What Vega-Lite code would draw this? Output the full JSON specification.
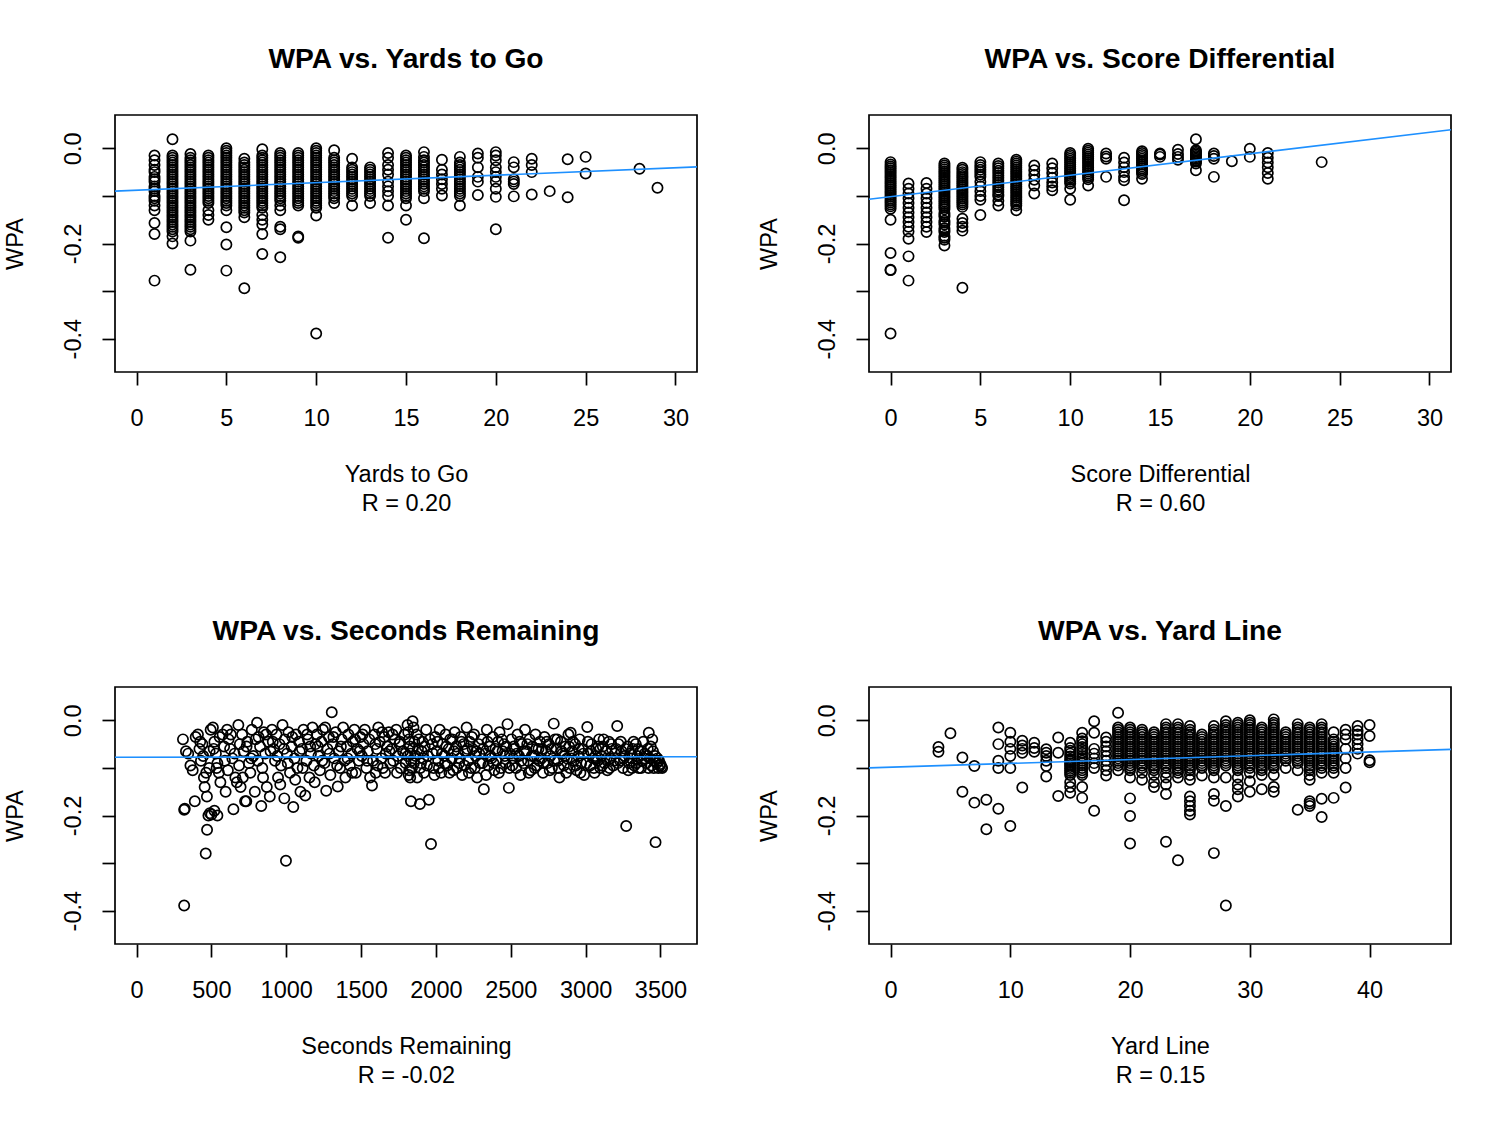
{
  "$schema": "https://vega.github.io/schema/vega-lite/v6.json",
  "background": "white",
  "padding": {"left": 2, "top": 43, "right": 5, "bottom": 5},
  "config": {
    "font": "Liberation Sans",
    "view": {"stroke": "black", "strokeWidth": 1.7},
    "axis": {
      "grid": false,
      "domain": false,
      "ticks": true,
      "tickColor": "black",
      "tickWidth": 1.7,
      "tickSize": 13,
      "labelColor": "black",
      "labelFont": "Liberation Sans",
      "labelFontSize": 23.5,
      "titleColor": "black",
      "titleFont": "Liberation Sans",
      "titleFontSize": 23.5,
      "titleFontWeight": "normal"
    },
    "axisX": {"labelPadding": 21, "titlePadding": 33, "titleLineHeight": 29, "labelFlush": false, "labelOverlap": false},
    "axisY": {"labelAngle": 270, "labelAlign": "center", "labelBaseline": "alphabetic", "labelPadding": 22, "titlePadding": 34, "labelOverlap": false},
    "title": {"font": "Liberation Sans", "fontSize": 28.2, "fontWeight": "bold", "color": "black", "anchor": "middle", "offset": 41},
    "point": {"shape": "circle", "filled": false, "color": "black", "size": 105, "strokeWidth": 1.7, "opacity": 1},
    "line": {"color": "#1E90FF", "strokeWidth": 1.6, "clip": true}
  },
  "datasets": {
    "yards_to_go": [
      {"yards":1,"wpa":-0.015},{"yards":1,"wpa":-0.025},{"yards":1,"wpa":-0.035},{"yards":1,"wpa":-0.05},{"yards":1,"wpa":-0.06},{"yards":1,"wpa":-0.07},{"yards":1,"wpa":-0.08},{"yards":1,"wpa":-0.09},{"yards":1,"wpa":-0.1},{"yards":1,"wpa":-0.11},{"yards":1,"wpa":-0.12},{"yards":1,"wpa":-0.13},{"yards":1,"wpa":-0.157},{"yards":1,"wpa":-0.18},{"yards":1,"wpa":-0.278},
      {"yards":1,"wpa":-0.045},{"yards":1,"wpa":-0.065},{"yards":1,"wpa":-0.085},{"yards":1,"wpa":-0.105},
      {"yards":2,"wpa":0.019},{"yards":2,"wpa":-0.015},{"yards":2,"wpa":-0.025},{"yards":2,"wpa":-0.035},{"yards":2,"wpa":-0.045},{"yards":2,"wpa":-0.055},{"yards":2,"wpa":-0.065},{"yards":2,"wpa":-0.075},{"yards":2,"wpa":-0.085},{"yards":2,"wpa":-0.095},{"yards":2,"wpa":-0.105},{"yards":2,"wpa":-0.115},{"yards":2,"wpa":-0.125},{"yards":2,"wpa":-0.135},{"yards":2,"wpa":-0.145},{"yards":2,"wpa":-0.155},{"yards":2,"wpa":-0.165},{"yards":2,"wpa":-0.175},{"yards":2,"wpa":-0.185},{"yards":2,"wpa":-0.2},
      {"yards":2,"wpa":-0.02},{"yards":2,"wpa":-0.03},{"yards":2,"wpa":-0.04},{"yards":2,"wpa":-0.05},{"yards":2,"wpa":-0.06},{"yards":2,"wpa":-0.07},{"yards":2,"wpa":-0.08},{"yards":2,"wpa":-0.09},{"yards":2,"wpa":-0.1},{"yards":2,"wpa":-0.11},{"yards":2,"wpa":-0.12},{"yards":2,"wpa":-0.13},{"yards":2,"wpa":-0.14},{"yards":2,"wpa":-0.15},{"yards":2,"wpa":-0.16},{"yards":2,"wpa":-0.17},
      {"yards":3,"wpa":-0.012},{"yards":3,"wpa":-0.025},{"yards":3,"wpa":-0.035},{"yards":3,"wpa":-0.045},{"yards":3,"wpa":-0.055},{"yards":3,"wpa":-0.065},{"yards":3,"wpa":-0.075},{"yards":3,"wpa":-0.085},{"yards":3,"wpa":-0.095},{"yards":3,"wpa":-0.105},{"yards":3,"wpa":-0.115},{"yards":3,"wpa":-0.125},{"yards":3,"wpa":-0.135},{"yards":3,"wpa":-0.145},{"yards":3,"wpa":-0.155},{"yards":3,"wpa":-0.165},{"yards":3,"wpa":-0.175},{"yards":3,"wpa":-0.194},{"yards":3,"wpa":-0.255},
      {"yards":3,"wpa":-0.02},{"yards":3,"wpa":-0.03},{"yards":3,"wpa":-0.04},{"yards":3,"wpa":-0.05},{"yards":3,"wpa":-0.06},{"yards":3,"wpa":-0.07},{"yards":3,"wpa":-0.08},{"yards":3,"wpa":-0.09},{"yards":3,"wpa":-0.1},{"yards":3,"wpa":-0.11},{"yards":3,"wpa":-0.12},{"yards":3,"wpa":-0.13},{"yards":3,"wpa":-0.14},{"yards":3,"wpa":-0.15},{"yards":3,"wpa":-0.16},{"yards":3,"wpa":-0.17},
      {"yards":4,"wpa":-0.015},{"yards":4,"wpa":-0.025},{"yards":4,"wpa":-0.035},{"yards":4,"wpa":-0.045},{"yards":4,"wpa":-0.055},{"yards":4,"wpa":-0.065},{"yards":4,"wpa":-0.075},{"yards":4,"wpa":-0.085},{"yards":4,"wpa":-0.095},{"yards":4,"wpa":-0.105},{"yards":4,"wpa":-0.115},{"yards":4,"wpa":-0.13},{"yards":4,"wpa":-0.14},{"yards":4,"wpa":-0.15},
      {"yards":4,"wpa":-0.02},{"yards":4,"wpa":-0.03},{"yards":4,"wpa":-0.04},{"yards":4,"wpa":-0.05},{"yards":4,"wpa":-0.06},{"yards":4,"wpa":-0.07},{"yards":4,"wpa":-0.08},{"yards":4,"wpa":-0.09},{"yards":4,"wpa":-0.1},{"yards":4,"wpa":-0.11},
      {"yards":5,"wpa":0},{"yards":5,"wpa":-0.01},{"yards":5,"wpa":-0.02},{"yards":5,"wpa":-0.03},{"yards":5,"wpa":-0.04},{"yards":5,"wpa":-0.05},{"yards":5,"wpa":-0.06},{"yards":5,"wpa":-0.07},{"yards":5,"wpa":-0.08},{"yards":5,"wpa":-0.09},{"yards":5,"wpa":-0.1},{"yards":5,"wpa":-0.11},{"yards":5,"wpa":-0.12},{"yards":5,"wpa":-0.13},{"yards":5,"wpa":-0.166},{"yards":5,"wpa":-0.202},{"yards":5,"wpa":-0.257},
      {"yards":5,"wpa":-0.005},{"yards":5,"wpa":-0.015},{"yards":5,"wpa":-0.025},{"yards":5,"wpa":-0.035},{"yards":5,"wpa":-0.045},{"yards":5,"wpa":-0.055},{"yards":5,"wpa":-0.065},{"yards":5,"wpa":-0.075},{"yards":5,"wpa":-0.085},{"yards":5,"wpa":-0.095},{"yards":5,"wpa":-0.105},{"yards":5,"wpa":-0.115},
      {"yards":6,"wpa":-0.022},{"yards":6,"wpa":-0.035},{"yards":6,"wpa":-0.045},{"yards":6,"wpa":-0.055},{"yards":6,"wpa":-0.065},{"yards":6,"wpa":-0.075},{"yards":6,"wpa":-0.085},{"yards":6,"wpa":-0.095},{"yards":6,"wpa":-0.105},{"yards":6,"wpa":-0.115},{"yards":6,"wpa":-0.125},{"yards":6,"wpa":-0.135},{"yards":6,"wpa":-0.145},{"yards":6,"wpa":-0.294},
      {"yards":6,"wpa":-0.03},{"yards":6,"wpa":-0.04},{"yards":6,"wpa":-0.05},{"yards":6,"wpa":-0.06},{"yards":6,"wpa":-0.07},{"yards":6,"wpa":-0.08},{"yards":6,"wpa":-0.09},{"yards":6,"wpa":-0.1},{"yards":6,"wpa":-0.11},{"yards":6,"wpa":-0.12},{"yards":6,"wpa":-0.13},
      {"yards":7,"wpa":-0.002},{"yards":7,"wpa":-0.015},{"yards":7,"wpa":-0.025},{"yards":7,"wpa":-0.035},{"yards":7,"wpa":-0.045},{"yards":7,"wpa":-0.055},{"yards":7,"wpa":-0.065},{"yards":7,"wpa":-0.075},{"yards":7,"wpa":-0.085},{"yards":7,"wpa":-0.095},{"yards":7,"wpa":-0.105},{"yards":7,"wpa":-0.115},{"yards":7,"wpa":-0.125},{"yards":7,"wpa":-0.14},{"yards":7,"wpa":-0.15},{"yards":7,"wpa":-0.16},{"yards":7,"wpa":-0.18},{"yards":7,"wpa":-0.222},
      {"yards":7,"wpa":-0.02},{"yards":7,"wpa":-0.03},{"yards":7,"wpa":-0.04},{"yards":7,"wpa":-0.05},{"yards":7,"wpa":-0.06},{"yards":7,"wpa":-0.07},{"yards":7,"wpa":-0.08},{"yards":7,"wpa":-0.09},{"yards":7,"wpa":-0.1},{"yards":7,"wpa":-0.11},{"yards":7,"wpa":-0.12},
      {"yards":8,"wpa":-0.01},{"yards":8,"wpa":-0.02},{"yards":8,"wpa":-0.03},{"yards":8,"wpa":-0.04},{"yards":8,"wpa":-0.05},{"yards":8,"wpa":-0.06},{"yards":8,"wpa":-0.07},{"yards":8,"wpa":-0.08},{"yards":8,"wpa":-0.09},{"yards":8,"wpa":-0.1},{"yards":8,"wpa":-0.11},{"yards":8,"wpa":-0.12},{"yards":8,"wpa":-0.13},{"yards":8,"wpa":-0.165},{"yards":8,"wpa":-0.17},{"yards":8,"wpa":-0.229},
      {"yards":8,"wpa":-0.015},{"yards":8,"wpa":-0.025},{"yards":8,"wpa":-0.035},{"yards":8,"wpa":-0.045},{"yards":8,"wpa":-0.055},{"yards":8,"wpa":-0.065},{"yards":8,"wpa":-0.075},{"yards":8,"wpa":-0.085},{"yards":8,"wpa":-0.095},{"yards":8,"wpa":-0.105},
      {"yards":9,"wpa":-0.01},{"yards":9,"wpa":-0.02},{"yards":9,"wpa":-0.03},{"yards":9,"wpa":-0.04},{"yards":9,"wpa":-0.05},{"yards":9,"wpa":-0.06},{"yards":9,"wpa":-0.07},{"yards":9,"wpa":-0.08},{"yards":9,"wpa":-0.09},{"yards":9,"wpa":-0.1},{"yards":9,"wpa":-0.11},{"yards":9,"wpa":-0.12},{"yards":9,"wpa":-0.185},{"yards":9,"wpa":-0.188},
      {"yards":9,"wpa":-0.015},{"yards":9,"wpa":-0.025},{"yards":9,"wpa":-0.035},{"yards":9,"wpa":-0.045},{"yards":9,"wpa":-0.055},{"yards":9,"wpa":-0.065},{"yards":9,"wpa":-0.075},{"yards":9,"wpa":-0.085},{"yards":9,"wpa":-0.095},{"yards":9,"wpa":-0.105},{"yards":9,"wpa":-0.115},
      {"yards":10,"wpa":0},{"yards":10,"wpa":-0.005},{"yards":10,"wpa":-0.015},{"yards":10,"wpa":-0.025},{"yards":10,"wpa":-0.035},{"yards":10,"wpa":-0.045},{"yards":10,"wpa":-0.055},{"yards":10,"wpa":-0.065},{"yards":10,"wpa":-0.075},{"yards":10,"wpa":-0.085},{"yards":10,"wpa":-0.095},{"yards":10,"wpa":-0.105},{"yards":10,"wpa":-0.115},{"yards":10,"wpa":-0.125},{"yards":10,"wpa":-0.141},{"yards":10,"wpa":-0.389},
      {"yards":10,"wpa":-0.01},{"yards":10,"wpa":-0.02},{"yards":10,"wpa":-0.03},{"yards":10,"wpa":-0.04},{"yards":10,"wpa":-0.05},{"yards":10,"wpa":-0.06},{"yards":10,"wpa":-0.07},{"yards":10,"wpa":-0.08},{"yards":10,"wpa":-0.09},{"yards":10,"wpa":-0.1},{"yards":10,"wpa":-0.11},{"yards":10,"wpa":-0.12},
      {"yards":11,"wpa":-0.004},{"yards":11,"wpa":-0.02},{"yards":11,"wpa":-0.03},{"yards":11,"wpa":-0.04},{"yards":11,"wpa":-0.05},{"yards":11,"wpa":-0.06},{"yards":11,"wpa":-0.07},{"yards":11,"wpa":-0.08},{"yards":11,"wpa":-0.09},{"yards":11,"wpa":-0.1},{"yards":11,"wpa":-0.115},
      {"yards":11,"wpa":-0.025},{"yards":11,"wpa":-0.035},{"yards":11,"wpa":-0.045},{"yards":11,"wpa":-0.055},{"yards":11,"wpa":-0.065},{"yards":11,"wpa":-0.075},{"yards":11,"wpa":-0.085},{"yards":11,"wpa":-0.095},{"yards":11,"wpa":-0.105},
      {"yards":12,"wpa":-0.022},{"yards":12,"wpa":-0.04},{"yards":12,"wpa":-0.05},{"yards":12,"wpa":-0.06},{"yards":12,"wpa":-0.07},{"yards":12,"wpa":-0.08},{"yards":12,"wpa":-0.09},{"yards":12,"wpa":-0.1},{"yards":12,"wpa":-0.12},
      {"yards":12,"wpa":-0.045},{"yards":12,"wpa":-0.055},{"yards":12,"wpa":-0.065},{"yards":12,"wpa":-0.075},{"yards":12,"wpa":-0.085},{"yards":12,"wpa":-0.095},
      {"yards":13,"wpa":-0.04},{"yards":13,"wpa":-0.05},{"yards":13,"wpa":-0.06},{"yards":13,"wpa":-0.07},{"yards":13,"wpa":-0.08},{"yards":13,"wpa":-0.09},{"yards":13,"wpa":-0.1},{"yards":13,"wpa":-0.115},
      {"yards":13,"wpa":-0.045},{"yards":13,"wpa":-0.055},{"yards":13,"wpa":-0.065},{"yards":13,"wpa":-0.075},{"yards":13,"wpa":-0.085},{"yards":13,"wpa":-0.095},
      {"yards":14,"wpa":-0.01},{"yards":14,"wpa":-0.02},{"yards":14,"wpa":-0.035},{"yards":14,"wpa":-0.045},{"yards":14,"wpa":-0.055},{"yards":14,"wpa":-0.07},{"yards":14,"wpa":-0.08},{"yards":14,"wpa":-0.09},{"yards":14,"wpa":-0.1},{"yards":14,"wpa":-0.12},{"yards":14,"wpa":-0.188},
      {"yards":15,"wpa":-0.015},{"yards":15,"wpa":-0.025},{"yards":15,"wpa":-0.035},{"yards":15,"wpa":-0.045},{"yards":15,"wpa":-0.055},{"yards":15,"wpa":-0.065},{"yards":15,"wpa":-0.075},{"yards":15,"wpa":-0.085},{"yards":15,"wpa":-0.095},{"yards":15,"wpa":-0.105},{"yards":15,"wpa":-0.12},{"yards":15,"wpa":-0.15},
      {"yards":15,"wpa":-0.02},{"yards":15,"wpa":-0.03},{"yards":15,"wpa":-0.04},{"yards":15,"wpa":-0.05},{"yards":15,"wpa":-0.06},{"yards":15,"wpa":-0.07},{"yards":15,"wpa":-0.08},{"yards":15,"wpa":-0.09},{"yards":15,"wpa":-0.1},
      {"yards":16,"wpa":-0.008},{"yards":16,"wpa":-0.018},{"yards":16,"wpa":-0.03},{"yards":16,"wpa":-0.04},{"yards":16,"wpa":-0.05},{"yards":16,"wpa":-0.06},{"yards":16,"wpa":-0.07},{"yards":16,"wpa":-0.08},{"yards":16,"wpa":-0.09},{"yards":16,"wpa":-0.105},{"yards":16,"wpa":-0.189},
      {"yards":16,"wpa":-0.025},{"yards":16,"wpa":-0.035},{"yards":16,"wpa":-0.045},{"yards":16,"wpa":-0.055},{"yards":16,"wpa":-0.065},{"yards":16,"wpa":-0.075},{"yards":16,"wpa":-0.085},
      {"yards":17,"wpa":-0.024},{"yards":17,"wpa":-0.045},{"yards":17,"wpa":-0.055},{"yards":17,"wpa":-0.065},{"yards":17,"wpa":-0.075},{"yards":17,"wpa":-0.085},{"yards":17,"wpa":-0.099},
      {"yards":18,"wpa":-0.018},{"yards":18,"wpa":-0.03},{"yards":18,"wpa":-0.04},{"yards":18,"wpa":-0.05},{"yards":18,"wpa":-0.06},{"yards":18,"wpa":-0.07},{"yards":18,"wpa":-0.08},{"yards":18,"wpa":-0.09},{"yards":18,"wpa":-0.1},{"yards":18,"wpa":-0.12},
      {"yards":18,"wpa":-0.035},{"yards":18,"wpa":-0.045},{"yards":18,"wpa":-0.055},{"yards":18,"wpa":-0.065},{"yards":18,"wpa":-0.075},{"yards":18,"wpa":-0.085},{"yards":18,"wpa":-0.095},
      {"yards":19,"wpa":-0.011},{"yards":19,"wpa":-0.02},{"yards":19,"wpa":-0.04},{"yards":19,"wpa":-0.06},{"yards":19,"wpa":-0.07},{"yards":19,"wpa":-0.098},
      {"yards":20,"wpa":-0.008},{"yards":20,"wpa":-0.015},{"yards":20,"wpa":-0.025},{"yards":20,"wpa":-0.04},{"yards":20,"wpa":-0.05},{"yards":20,"wpa":-0.06},{"yards":20,"wpa":-0.07},{"yards":20,"wpa":-0.085},{"yards":20,"wpa":-0.102},{"yards":20,"wpa":-0.17},
      {"yards":21,"wpa":-0.029},{"yards":21,"wpa":-0.04},{"yards":21,"wpa":-0.065},{"yards":21,"wpa":-0.07},{"yards":21,"wpa":-0.075},{"yards":21,"wpa":-0.101},
      {"yards":22,"wpa":-0.022},{"yards":22,"wpa":-0.035},{"yards":22,"wpa":-0.05},{"yards":22,"wpa":-0.097},
      {"yards":23,"wpa":-0.09},
      {"yards":24,"wpa":-0.023},{"yards":24,"wpa":-0.103},
      {"yards":25,"wpa":-0.018},{"yards":25,"wpa":-0.053},
      {"yards":28,"wpa":-0.043},
      {"yards":29,"wpa":-0.083}
    ],
    "fit_yards": [{"yards":-1.2,"wpa":-0.0899},{"yards":31.2,"wpa":-0.039}],
    "score_differential": [
      {"score_diff":0,"wpa":-0.029},{"score_diff":0,"wpa":-0.038},{"score_diff":0,"wpa":-0.046},{"score_diff":0,"wpa":-0.054},{"score_diff":0,"wpa":-0.062},{"score_diff":0,"wpa":-0.07},{"score_diff":0,"wpa":-0.078},{"score_diff":0,"wpa":-0.086},{"score_diff":0,"wpa":-0.094},{"score_diff":0,"wpa":-0.102},{"score_diff":0,"wpa":-0.11},{"score_diff":0,"wpa":-0.118},{"score_diff":0,"wpa":-0.127},{"score_diff":0,"wpa":-0.15},{"score_diff":0,"wpa":-0.22},{"score_diff":0,"wpa":-0.255},{"score_diff":0,"wpa":-0.256},{"score_diff":0,"wpa":-0.389},
      {"score_diff":0,"wpa":-0.034},{"score_diff":0,"wpa":-0.042},{"score_diff":0,"wpa":-0.05},{"score_diff":0,"wpa":-0.058},{"score_diff":0,"wpa":-0.066},{"score_diff":0,"wpa":-0.074},{"score_diff":0,"wpa":-0.082},{"score_diff":0,"wpa":-0.09},{"score_diff":0,"wpa":-0.098},{"score_diff":0,"wpa":-0.106},{"score_diff":0,"wpa":-0.114},{"score_diff":0,"wpa":-0.122},
      {"score_diff":1,"wpa":-0.074},{"score_diff":1,"wpa":-0.085},{"score_diff":1,"wpa":-0.095},{"score_diff":1,"wpa":-0.105},{"score_diff":1,"wpa":-0.115},{"score_diff":1,"wpa":-0.125},{"score_diff":1,"wpa":-0.135},{"score_diff":1,"wpa":-0.145},{"score_diff":1,"wpa":-0.155},{"score_diff":1,"wpa":-0.165},{"score_diff":1,"wpa":-0.175},{"score_diff":1,"wpa":-0.19},{"score_diff":1,"wpa":-0.227},{"score_diff":1,"wpa":-0.278},
      {"score_diff":2,"wpa":-0.073},{"score_diff":2,"wpa":-0.085},{"score_diff":2,"wpa":-0.095},{"score_diff":2,"wpa":-0.105},{"score_diff":2,"wpa":-0.115},{"score_diff":2,"wpa":-0.125},{"score_diff":2,"wpa":-0.135},{"score_diff":2,"wpa":-0.145},{"score_diff":2,"wpa":-0.155},{"score_diff":2,"wpa":-0.165},{"score_diff":2,"wpa":-0.176},
      {"score_diff":3,"wpa":-0.032},{"score_diff":3,"wpa":-0.04},{"score_diff":3,"wpa":-0.048},{"score_diff":3,"wpa":-0.056},{"score_diff":3,"wpa":-0.064},{"score_diff":3,"wpa":-0.072},{"score_diff":3,"wpa":-0.08},{"score_diff":3,"wpa":-0.088},{"score_diff":3,"wpa":-0.096},{"score_diff":3,"wpa":-0.104},{"score_diff":3,"wpa":-0.112},{"score_diff":3,"wpa":-0.12},{"score_diff":3,"wpa":-0.128},{"score_diff":3,"wpa":-0.136},{"score_diff":3,"wpa":-0.144},{"score_diff":3,"wpa":-0.152},{"score_diff":3,"wpa":-0.16},{"score_diff":3,"wpa":-0.168},{"score_diff":3,"wpa":-0.176},{"score_diff":3,"wpa":-0.184},{"score_diff":3,"wpa":-0.192},{"score_diff":3,"wpa":-0.204},
      {"score_diff":3,"wpa":-0.036},{"score_diff":3,"wpa":-0.044},{"score_diff":3,"wpa":-0.052},{"score_diff":3,"wpa":-0.06},{"score_diff":3,"wpa":-0.068},{"score_diff":3,"wpa":-0.076},{"score_diff":3,"wpa":-0.084},{"score_diff":3,"wpa":-0.092},{"score_diff":3,"wpa":-0.1},{"score_diff":3,"wpa":-0.108},{"score_diff":3,"wpa":-0.116},{"score_diff":3,"wpa":-0.124},{"score_diff":3,"wpa":-0.14},{"score_diff":3,"wpa":-0.156},{"score_diff":3,"wpa":-0.172},{"score_diff":3,"wpa":-0.188},
      {"score_diff":4,"wpa":-0.041},{"score_diff":4,"wpa":-0.05},{"score_diff":4,"wpa":-0.058},{"score_diff":4,"wpa":-0.066},{"score_diff":4,"wpa":-0.074},{"score_diff":4,"wpa":-0.082},{"score_diff":4,"wpa":-0.09},{"score_diff":4,"wpa":-0.098},{"score_diff":4,"wpa":-0.106},{"score_diff":4,"wpa":-0.114},{"score_diff":4,"wpa":-0.123},{"score_diff":4,"wpa":-0.148},{"score_diff":4,"wpa":-0.157},{"score_diff":4,"wpa":-0.165},{"score_diff":4,"wpa":-0.173},{"score_diff":4,"wpa":-0.293},
      {"score_diff":4,"wpa":-0.045},{"score_diff":4,"wpa":-0.054},{"score_diff":4,"wpa":-0.062},{"score_diff":4,"wpa":-0.07},{"score_diff":4,"wpa":-0.078},{"score_diff":4,"wpa":-0.086},{"score_diff":4,"wpa":-0.094},{"score_diff":4,"wpa":-0.102},{"score_diff":4,"wpa":-0.11},{"score_diff":4,"wpa":-0.118},
      {"score_diff":5,"wpa":-0.029},{"score_diff":5,"wpa":-0.04},{"score_diff":5,"wpa":-0.05},{"score_diff":5,"wpa":-0.06},{"score_diff":5,"wpa":-0.07},{"score_diff":5,"wpa":-0.08},{"score_diff":5,"wpa":-0.09},{"score_diff":5,"wpa":-0.1},{"score_diff":5,"wpa":-0.108},{"score_diff":5,"wpa":-0.14},
      {"score_diff":5,"wpa":-0.035},{"score_diff":5,"wpa":-0.045},{"score_diff":5,"wpa":-0.055},
      {"score_diff":6,"wpa":-0.032},{"score_diff":6,"wpa":-0.042},{"score_diff":6,"wpa":-0.052},{"score_diff":6,"wpa":-0.062},{"score_diff":6,"wpa":-0.072},{"score_diff":6,"wpa":-0.082},{"score_diff":6,"wpa":-0.092},{"score_diff":6,"wpa":-0.1},{"score_diff":6,"wpa":-0.11},{"score_diff":6,"wpa":-0.12},
      {"score_diff":6,"wpa":-0.037},{"score_diff":6,"wpa":-0.047},{"score_diff":6,"wpa":-0.057},{"score_diff":6,"wpa":-0.067},{"score_diff":6,"wpa":-0.077},{"score_diff":6,"wpa":-0.087},{"score_diff":6,"wpa":-0.097},
      {"score_diff":7,"wpa":-0.024},{"score_diff":7,"wpa":-0.032},{"score_diff":7,"wpa":-0.04},{"score_diff":7,"wpa":-0.048},{"score_diff":7,"wpa":-0.056},{"score_diff":7,"wpa":-0.064},{"score_diff":7,"wpa":-0.072},{"score_diff":7,"wpa":-0.08},{"score_diff":7,"wpa":-0.088},{"score_diff":7,"wpa":-0.096},{"score_diff":7,"wpa":-0.104},{"score_diff":7,"wpa":-0.112},{"score_diff":7,"wpa":-0.12},{"score_diff":7,"wpa":-0.13},
      {"score_diff":7,"wpa":-0.028},{"score_diff":7,"wpa":-0.036},{"score_diff":7,"wpa":-0.044},{"score_diff":7,"wpa":-0.052},{"score_diff":7,"wpa":-0.06},{"score_diff":7,"wpa":-0.068},{"score_diff":7,"wpa":-0.076},{"score_diff":7,"wpa":-0.084},{"score_diff":7,"wpa":-0.092},{"score_diff":7,"wpa":-0.1},{"score_diff":7,"wpa":-0.108},{"score_diff":7,"wpa":-0.116},
      {"score_diff":8,"wpa":-0.036},{"score_diff":8,"wpa":-0.046},{"score_diff":8,"wpa":-0.056},{"score_diff":8,"wpa":-0.066},{"score_diff":8,"wpa":-0.078},{"score_diff":8,"wpa":-0.095},
      {"score_diff":9,"wpa":-0.032},{"score_diff":9,"wpa":-0.042},{"score_diff":9,"wpa":-0.052},{"score_diff":9,"wpa":-0.062},{"score_diff":9,"wpa":-0.072},{"score_diff":9,"wpa":-0.08},{"score_diff":9,"wpa":-0.088},
      {"score_diff":10,"wpa":-0.01},{"score_diff":10,"wpa":-0.018},{"score_diff":10,"wpa":-0.026},{"score_diff":10,"wpa":-0.034},{"score_diff":10,"wpa":-0.042},{"score_diff":10,"wpa":-0.05},{"score_diff":10,"wpa":-0.058},{"score_diff":10,"wpa":-0.066},{"score_diff":10,"wpa":-0.074},{"score_diff":10,"wpa":-0.085},{"score_diff":10,"wpa":-0.108},
      {"score_diff":10,"wpa":-0.014},{"score_diff":10,"wpa":-0.022},{"score_diff":10,"wpa":-0.03},{"score_diff":10,"wpa":-0.038},{"score_diff":10,"wpa":-0.046},{"score_diff":10,"wpa":-0.054},{"score_diff":10,"wpa":-0.062},{"score_diff":10,"wpa":-0.07},
      {"score_diff":11,"wpa":-0.001},{"score_diff":11,"wpa":-0.009},{"score_diff":11,"wpa":-0.017},{"score_diff":11,"wpa":-0.025},{"score_diff":11,"wpa":-0.033},{"score_diff":11,"wpa":-0.041},{"score_diff":11,"wpa":-0.049},{"score_diff":11,"wpa":-0.057},{"score_diff":11,"wpa":-0.065},{"score_diff":11,"wpa":-0.078},
      {"score_diff":11,"wpa":-0.005},{"score_diff":11,"wpa":-0.013},{"score_diff":11,"wpa":-0.021},{"score_diff":11,"wpa":-0.029},{"score_diff":11,"wpa":-0.037},{"score_diff":11,"wpa":-0.045},{"score_diff":11,"wpa":-0.053},{"score_diff":11,"wpa":-0.061},
      {"score_diff":12,"wpa":-0.011},{"score_diff":12,"wpa":-0.017},{"score_diff":12,"wpa":-0.022},{"score_diff":12,"wpa":-0.06},
      {"score_diff":13,"wpa":-0.02},{"score_diff":13,"wpa":-0.03},{"score_diff":13,"wpa":-0.04},{"score_diff":13,"wpa":-0.05},{"score_diff":13,"wpa":-0.06},{"score_diff":13,"wpa":-0.067},{"score_diff":13,"wpa":-0.109},
      {"score_diff":14,"wpa":-0.006},{"score_diff":14,"wpa":-0.014},{"score_diff":14,"wpa":-0.022},{"score_diff":14,"wpa":-0.03},{"score_diff":14,"wpa":-0.038},{"score_diff":14,"wpa":-0.046},{"score_diff":14,"wpa":-0.054},{"score_diff":14,"wpa":-0.064},
      {"score_diff":14,"wpa":-0.01},{"score_diff":14,"wpa":-0.018},{"score_diff":14,"wpa":-0.026},{"score_diff":14,"wpa":-0.034},{"score_diff":14,"wpa":-0.042},{"score_diff":14,"wpa":-0.05},
      {"score_diff":15,"wpa":-0.011},{"score_diff":15,"wpa":-0.013},{"score_diff":15,"wpa":-0.018},
      {"score_diff":16,"wpa":-0.003},{"score_diff":16,"wpa":-0.012},{"score_diff":16,"wpa":-0.018},{"score_diff":16,"wpa":-0.024},
      {"score_diff":17,"wpa":0.019},{"score_diff":17,"wpa":-0.004},{"score_diff":17,"wpa":-0.01},{"score_diff":17,"wpa":-0.016},{"score_diff":17,"wpa":-0.022},{"score_diff":17,"wpa":-0.028},{"score_diff":17,"wpa":-0.032},{"score_diff":17,"wpa":-0.046},
      {"score_diff":17,"wpa":-0.007},{"score_diff":17,"wpa":-0.013},{"score_diff":17,"wpa":-0.019},{"score_diff":17,"wpa":-0.025},
      {"score_diff":18,"wpa":-0.011},{"score_diff":18,"wpa":-0.016},{"score_diff":18,"wpa":-0.022},{"score_diff":18,"wpa":-0.06},
      {"score_diff":19,"wpa":-0.027},
      {"score_diff":20,"wpa":-0.001},{"score_diff":20,"wpa":-0.018},
      {"score_diff":21,"wpa":-0.01},{"score_diff":21,"wpa":-0.02},{"score_diff":21,"wpa":-0.03},{"score_diff":21,"wpa":-0.04},{"score_diff":21,"wpa":-0.052},{"score_diff":21,"wpa":-0.064},
      {"score_diff":24,"wpa":-0.029}
    ],
    "fit_score": [{"score_diff":-1.2,"wpa":-0.107},{"score_diff":31.2,"wpa":0.039}],
    "seconds_remaining": [
      {"seconds":310,"wpa":-0.04},{"seconds":330,"wpa":-0.065},{"seconds":345,"wpa":-0.07},{"seconds":360,"wpa":-0.095},{"seconds":375,"wpa":-0.105},{"seconds":318,"wpa":-0.188},{"seconds":322,"wpa":-0.186},{"seconds":318,"wpa":-0.389},{"seconds":389,"wpa":-0.17},{"seconds":395,"wpa":-0.035},
      {"seconds":410,"wpa":-0.03},{"seconds":420,"wpa":-0.06},{"seconds":430,"wpa":-0.085},{"seconds":440,"wpa":-0.05},{"seconds":450,"wpa":-0.12},{"seconds":455,"wpa":-0.14},{"seconds":462,"wpa":-0.28},{"seconds":471,"wpa":-0.23},{"seconds":480,"wpa":-0.2},{"seconds":490,"wpa":-0.195},{"seconds":470,"wpa":-0.16},{"seconds":500,"wpa":-0.198},{"seconds":485,"wpa":-0.1},{"seconds":495,"wpa":-0.02},
      {"seconds":425,"wpa":-0.045},{"seconds":445,"wpa":-0.075},{"seconds":465,"wpa":-0.11},{"seconds":488,"wpa":-0.065},
      {"seconds":510,"wpa":-0.015},{"seconds":520,"wpa":-0.045},{"seconds":530,"wpa":-0.07},{"seconds":540,"wpa":-0.09},{"seconds":550,"wpa":-0.11},{"seconds":560,"wpa":-0.13},{"seconds":575,"wpa":-0.03},{"seconds":585,"wpa":-0.055},{"seconds":595,"wpa":-0.15},{"seconds":540,"wpa":-0.2},{"seconds":520,"wpa":-0.19},
      {"seconds":515,"wpa":-0.06},{"seconds":535,"wpa":-0.1},{"seconds":555,"wpa":-0.035},{"seconds":590,"wpa":-0.085},
      {"seconds":605,"wpa":-0.02},{"seconds":615,"wpa":-0.04},{"seconds":625,"wpa":-0.06},{"seconds":640,"wpa":-0.08},{"seconds":647,"wpa":-0.187},{"seconds":660,"wpa":-0.12},{"seconds":670,"wpa":-0.13},{"seconds":680,"wpa":-0.01},{"seconds":690,"wpa":-0.05},{"seconds":695,"wpa":-0.14},
      {"seconds":610,"wpa":-0.105},{"seconds":630,"wpa":-0.03},{"seconds":655,"wpa":-0.07},{"seconds":685,"wpa":-0.095},
      {"seconds":705,"wpa":-0.03},{"seconds":715,"wpa":-0.065},{"seconds":725,"wpa":-0.17},{"seconds":733,"wpa":-0.17},{"seconds":740,"wpa":-0.045},{"seconds":750,"wpa":-0.09},{"seconds":760,"wpa":-0.11},{"seconds":770,"wpa":-0.02},{"seconds":780,"wpa":-0.075},{"seconds":790,"wpa":-0.15},
      {"seconds":710,"wpa":-0.12},{"seconds":735,"wpa":-0.055},{"seconds":765,"wpa":-0.08},{"seconds":795,"wpa":-0.04},
      {"seconds":805,"wpa":-0.005},{"seconds":815,"wpa":-0.035},{"seconds":825,"wpa":-0.055},{"seconds":833,"wpa":-0.18},{"seconds":840,"wpa":-0.1},{"seconds":850,"wpa":-0.025},{"seconds":860,"wpa":-0.07},{"seconds":870,"wpa":-0.14},{"seconds":880,"wpa":-0.045},{"seconds":890,"wpa":-0.16},
      {"seconds":810,"wpa":-0.085},{"seconds":845,"wpa":-0.12},{"seconds":865,"wpa":-0.03},{"seconds":895,"wpa":-0.065},
      {"seconds":905,"wpa":-0.02},{"seconds":915,"wpa":-0.06},{"seconds":925,"wpa":-0.085},{"seconds":935,"wpa":-0.03},{"seconds":945,"wpa":-0.12},{"seconds":955,"wpa":-0.05},{"seconds":965,"wpa":-0.095},{"seconds":975,"wpa":-0.01},{"seconds":987,"wpa":-0.164},{"seconds":998,"wpa":-0.295},{"seconds":990,"wpa":-0.04},
      {"seconds":910,"wpa":-0.045},{"seconds":940,"wpa":-0.075},{"seconds":960,"wpa":-0.135},{"seconds":985,"wpa":-0.06},
      {"seconds":1005,"wpa":-0.07},{"seconds":1015,"wpa":-0.025},{"seconds":1025,"wpa":-0.11},{"seconds":1035,"wpa":-0.055},{"seconds":1047,"wpa":-0.182},{"seconds":1055,"wpa":-0.08},{"seconds":1065,"wpa":-0.03},{"seconds":1075,"wpa":-0.1},{"seconds":1085,"wpa":-0.045},{"seconds":1095,"wpa":-0.15},
      {"seconds":1010,"wpa":-0.09},{"seconds":1040,"wpa":-0.035},{"seconds":1060,"wpa":-0.125},{"seconds":1090,"wpa":-0.065},
      {"seconds":1105,"wpa":-0.06},{"seconds":1115,"wpa":-0.02},{"seconds":1127,"wpa":-0.158},{"seconds":1135,"wpa":-0.085},{"seconds":1145,"wpa":-0.04},{"seconds":1155,"wpa":-0.12},{"seconds":1165,"wpa":-0.07},{"seconds":1175,"wpa":-0.015},{"seconds":1185,"wpa":-0.095},{"seconds":1195,"wpa":-0.05},
      {"seconds":1110,"wpa":-0.1},{"seconds":1140,"wpa":-0.03},{"seconds":1160,"wpa":-0.055},{"seconds":1190,"wpa":-0.13},
      {"seconds":1205,"wpa":-0.03},{"seconds":1215,"wpa":-0.075},{"seconds":1225,"wpa":-0.105},{"seconds":1235,"wpa":-0.045},{"seconds":1245,"wpa":-0.02},{"seconds":1255,"wpa":-0.09},{"seconds":1267,"wpa":-0.148},{"seconds":1275,"wpa":-0.06},{"seconds":1285,"wpa":-0.035},{"seconds":1295,"wpa":-0.115},
      {"seconds":1210,"wpa":-0.055},{"seconds":1240,"wpa":-0.085},{"seconds":1260,"wpa":-0.015},{"seconds":1290,"wpa":-0.07},
      {"seconds":1304,"wpa":0.017},{"seconds":1310,"wpa":-0.05},{"seconds":1320,"wpa":-0.08},{"seconds":1330,"wpa":-0.025},{"seconds":1344,"wpa":-0.139},{"seconds":1350,"wpa":-0.065},{"seconds":1360,"wpa":-0.1},{"seconds":1370,"wpa":-0.04},{"seconds":1380,"wpa":-0.015},{"seconds":1390,"wpa":-0.085},
      {"seconds":1315,"wpa":-0.035},{"seconds":1340,"wpa":-0.095},{"seconds":1365,"wpa":-0.055},{"seconds":1395,"wpa":-0.12},
      {"seconds":1405,"wpa":-0.055},{"seconds":1415,"wpa":-0.03},{"seconds":1425,"wpa":-0.095},{"seconds":1435,"wpa":-0.07},{"seconds":1445,"wpa":-0.045},{"seconds":1455,"wpa":-0.02},{"seconds":1465,"wpa":-0.11},{"seconds":1475,"wpa":-0.06},{"seconds":1485,"wpa":-0.085},{"seconds":1495,"wpa":-0.035},
      {"seconds":1410,"wpa":-0.08},{"seconds":1440,"wpa":-0.11},{"seconds":1460,"wpa":-0.04},{"seconds":1490,"wpa":-0.065},
      {"seconds":1505,"wpa":-0.075},{"seconds":1515,"wpa":-0.05},{"seconds":1525,"wpa":-0.02},{"seconds":1535,"wpa":-0.1},{"seconds":1545,"wpa":-0.065},{"seconds":1555,"wpa":-0.04},{"seconds":1573,"wpa":-0.137},{"seconds":1580,"wpa":-0.085},{"seconds":1590,"wpa":-0.03},{"seconds":1598,"wpa":-0.11},
      {"seconds":1510,"wpa":-0.03},{"seconds":1540,"wpa":-0.085},{"seconds":1560,"wpa":-0.12},{"seconds":1595,"wpa":-0.05},
      {"seconds":1605,"wpa":-0.06},{"seconds":1615,"wpa":-0.015},{"seconds":1625,"wpa":-0.045},{"seconds":1635,"wpa":-0.08},{"seconds":1645,"wpa":-0.1},{"seconds":1655,"wpa":-0.035},{"seconds":1665,"wpa":-0.07},{"seconds":1675,"wpa":-0.055},{"seconds":1685,"wpa":-0.025},{"seconds":1695,"wpa":-0.09},
      {"seconds":1610,"wpa":-0.095},{"seconds":1640,"wpa":-0.025},{"seconds":1660,"wpa":-0.11},{"seconds":1690,"wpa":-0.065},
      {"seconds":1705,"wpa":-0.06},{"seconds":1715,"wpa":-0.085},{"seconds":1725,"wpa":-0.04},{"seconds":1735,"wpa":-0.02},{"seconds":1745,"wpa":-0.075},{"seconds":1755,"wpa":-0.05},{"seconds":1765,"wpa":-0.1},{"seconds":1780,"wpa":-0.065},{"seconds":1790,"wpa":-0.03},{"seconds":1798,"wpa":-0.09},
      {"seconds":1710,"wpa":-0.03},{"seconds":1740,"wpa":-0.11},{"seconds":1760,"wpa":-0.045},{"seconds":1795,"wpa":-0.07},
      {"seconds":1810,"wpa":-0.01},{"seconds":1815,"wpa":-0.025},{"seconds":1820,"wpa":-0.04},{"seconds":1825,"wpa":-0.055},{"seconds":1830,"wpa":-0.07},{"seconds":1835,"wpa":-0.085},{"seconds":1840,"wpa":-0.1},{"seconds":1818,"wpa":-0.115},{"seconds":1828,"wpa":-0.12},{"seconds":1844,"wpa":-0.002},{"seconds":1833,"wpa":-0.17},{"seconds":1850,"wpa":-0.015},{"seconds":1855,"wpa":-0.045},{"seconds":1845,"wpa":-0.06},{"seconds":1852,"wpa":-0.09},{"seconds":1812,"wpa":-0.075},{"seconds":1822,"wpa":-0.105},
      {"seconds":1870,"wpa":-0.03},{"seconds":1880,"wpa":-0.06},{"seconds":1893,"wpa":-0.176},{"seconds":1900,"wpa":-0.09},{"seconds":1910,"wpa":-0.045},{"seconds":1920,"wpa":-0.11},{"seconds":1935,"wpa":-0.02},{"seconds":1945,"wpa":-0.075},{"seconds":1953,"wpa":-0.167},{"seconds":1967,"wpa":-0.26},{"seconds":1975,"wpa":-0.05},{"seconds":1985,"wpa":-0.1},{"seconds":1995,"wpa":-0.035},
      {"seconds":1865,"wpa":-0.075},{"seconds":1885,"wpa":-0.04},{"seconds":1895,"wpa":-0.1},{"seconds":1875,"wpa":-0.12},{"seconds":1905,"wpa":-0.065},
      {"seconds":1915,"wpa":-0.08},{"seconds":1925,"wpa":-0.055},{"seconds":1940,"wpa":-0.095},{"seconds":1960,"wpa":-0.04},{"seconds":1980,"wpa":-0.07},{"seconds":1990,"wpa":-0.115},
      {"seconds":2005,"wpa":-0.065},{"seconds":2015,"wpa":-0.085},{"seconds":2025,"wpa":-0.02},{"seconds":2035,"wpa":-0.11},{"seconds":2045,"wpa":-0.05},{"seconds":2055,"wpa":-0.075},{"seconds":2065,"wpa":-0.03},{"seconds":2075,"wpa":-0.095},{"seconds":2085,"wpa":-0.06},{"seconds":2095,"wpa":-0.04},
      {"seconds":2010,"wpa":-0.045},{"seconds":2020,"wpa":-0.1},{"seconds":2040,"wpa":-0.07},{"seconds":2060,"wpa":-0.09},{"seconds":2070,"wpa":-0.055},{"seconds":2090,"wpa":-0.11},
      {"seconds":2105,"wpa":-0.08},{"seconds":2115,"wpa":-0.105},{"seconds":2125,"wpa":-0.025},{"seconds":2135,"wpa":-0.055},{"seconds":2145,"wpa":-0.07},{"seconds":2155,"wpa":-0.09},{"seconds":2165,"wpa":-0.035},{"seconds":2175,"wpa":-0.115},{"seconds":2185,"wpa":-0.05},{"seconds":2195,"wpa":-0.065},
      {"seconds":2110,"wpa":-0.04},{"seconds":2120,"wpa":-0.065},{"seconds":2140,"wpa":-0.1},{"seconds":2160,"wpa":-0.08},{"seconds":2170,"wpa":-0.045},{"seconds":2190,"wpa":-0.095},
      {"seconds":2205,"wpa":-0.015},{"seconds":2215,"wpa":-0.085},{"seconds":2225,"wpa":-0.045},{"seconds":2235,"wpa":-0.1},{"seconds":2245,"wpa":-0.06},{"seconds":2255,"wpa":-0.03},{"seconds":2265,"wpa":-0.075},{"seconds":2275,"wpa":-0.12},{"seconds":2285,"wpa":-0.05},{"seconds":2295,"wpa":-0.09},
      {"seconds":2210,"wpa":-0.06},{"seconds":2220,"wpa":-0.11},{"seconds":2240,"wpa":-0.035},{"seconds":2260,"wpa":-0.1},{"seconds":2270,"wpa":-0.065},{"seconds":2290,"wpa":-0.07},
      {"seconds":2305,"wpa":-0.04},{"seconds":2320,"wpa":-0.145},{"seconds":2330,"wpa":-0.07},{"seconds":2340,"wpa":-0.02},{"seconds":2350,"wpa":-0.095},{"seconds":2360,"wpa":-0.055},{"seconds":2370,"wpa":-0.08},{"seconds":2380,"wpa":-0.035},{"seconds":2390,"wpa":-0.105},{"seconds":2398,"wpa":-0.06},
      {"seconds":2310,"wpa":-0.09},{"seconds":2315,"wpa":-0.06},{"seconds":2335,"wpa":-0.115},{"seconds":2345,"wpa":-0.045},{"seconds":2365,"wpa":-0.075},{"seconds":2385,"wpa":-0.09},
      {"seconds":2405,"wpa":-0.085},{"seconds":2415,"wpa":-0.045},{"seconds":2425,"wpa":-0.025},{"seconds":2435,"wpa":-0.1},{"seconds":2445,"wpa":-0.065},{"seconds":2455,"wpa":-0.05},{"seconds":2465,"wpa":-0.09},{"seconds":2478,"wpa":-0.008},{"seconds":2487,"wpa":-0.142},{"seconds":2495,"wpa":-0.07},
      {"seconds":2410,"wpa":-0.065},{"seconds":2420,"wpa":-0.11},{"seconds":2440,"wpa":-0.04},{"seconds":2460,"wpa":-0.075},{"seconds":2470,"wpa":-0.055},{"seconds":2490,"wpa":-0.1},
      {"seconds":2505,"wpa":-0.04},{"seconds":2515,"wpa":-0.08},{"seconds":2525,"wpa":-0.06},{"seconds":2535,"wpa":-0.1},{"seconds":2545,"wpa":-0.03},{"seconds":2555,"wpa":-0.075},{"seconds":2565,"wpa":-0.115},{"seconds":2575,"wpa":-0.05},{"seconds":2585,"wpa":-0.09},{"seconds":2595,"wpa":-0.02},
      {"seconds":2510,"wpa":-0.095},{"seconds":2520,"wpa":-0.055},{"seconds":2540,"wpa":-0.07},{"seconds":2560,"wpa":-0.045},{"seconds":2570,"wpa":-0.085},{"seconds":2590,"wpa":-0.065},
      {"seconds":2605,"wpa":-0.065},{"seconds":2615,"wpa":-0.085},{"seconds":2625,"wpa":-0.04},{"seconds":2635,"wpa":-0.105},{"seconds":2645,"wpa":-0.055},{"seconds":2655,"wpa":-0.075},{"seconds":2665,"wpa":-0.03},{"seconds":2675,"wpa":-0.095},{"seconds":2685,"wpa":-0.06},{"seconds":2695,"wpa":-0.045},
      {"seconds":2610,"wpa":-0.05},{"seconds":2620,"wpa":-0.11},{"seconds":2640,"wpa":-0.075},{"seconds":2660,"wpa":-0.1},{"seconds":2670,"wpa":-0.06},{"seconds":2690,"wpa":-0.085},
      {"seconds":2705,"wpa":-0.08},{"seconds":2715,"wpa":-0.11},{"seconds":2725,"wpa":-0.035},{"seconds":2735,"wpa":-0.065},{"seconds":2745,"wpa":-0.09},{"seconds":2755,"wpa":-0.05},{"seconds":2765,"wpa":-0.075},{"seconds":2775,"wpa":-0.1},{"seconds":2787,"wpa":-0.007},{"seconds":2795,"wpa":-0.04},
      {"seconds":2710,"wpa":-0.06},{"seconds":2720,"wpa":-0.09},{"seconds":2740,"wpa":-0.045},{"seconds":2760,"wpa":-0.105},{"seconds":2770,"wpa":-0.06},{"seconds":2790,"wpa":-0.085},
      {"seconds":2805,"wpa":-0.06},{"seconds":2815,"wpa":-0.085},{"seconds":2825,"wpa":-0.12},{"seconds":2835,"wpa":-0.045},{"seconds":2845,"wpa":-0.07},{"seconds":2855,"wpa":-0.095},{"seconds":2865,"wpa":-0.055},{"seconds":2875,"wpa":-0.08},{"seconds":2885,"wpa":-0.03},{"seconds":2895,"wpa":-0.1},
      {"seconds":2810,"wpa":-0.04},{"seconds":2820,"wpa":-0.1},{"seconds":2840,"wpa":-0.065},{"seconds":2860,"wpa":-0.075},{"seconds":2870,"wpa":-0.11},{"seconds":2890,"wpa":-0.055},
      {"seconds":2900,"wpa":-0.026},{"seconds":2910,"wpa":-0.065},{"seconds":2920,"wpa":-0.085},{"seconds":2930,"wpa":-0.05},{"seconds":2940,"wpa":-0.105},{"seconds":2950,"wpa":-0.075},{"seconds":2960,"wpa":-0.04},{"seconds":2970,"wpa":-0.09},{"seconds":2980,"wpa":-0.06},{"seconds":2990,"wpa":-0.115},
      {"seconds":2905,"wpa":-0.08},{"seconds":2915,"wpa":-0.045},{"seconds":2935,"wpa":-0.095},{"seconds":2955,"wpa":-0.06},{"seconds":2965,"wpa":-0.11},{"seconds":2985,"wpa":-0.07},
      {"seconds":3011,"wpa":-0.014},{"seconds":3020,"wpa":-0.07},{"seconds":3030,"wpa":-0.095},{"seconds":3040,"wpa":-0.05},{"seconds":3050,"wpa":-0.08},{"seconds":3060,"wpa":-0.11},{"seconds":3070,"wpa":-0.06},{"seconds":3080,"wpa":-0.085},{"seconds":3090,"wpa":-0.04},{"seconds":3098,"wpa":-0.1},
      {"seconds":3005,"wpa":-0.09},{"seconds":3015,"wpa":-0.045},{"seconds":3035,"wpa":-0.065},{"seconds":3055,"wpa":-0.1},{"seconds":3065,"wpa":-0.075},{"seconds":3085,"wpa":-0.055},
      {"seconds":3105,"wpa":-0.075},{"seconds":3115,"wpa":-0.055},{"seconds":3125,"wpa":-0.09},{"seconds":3135,"wpa":-0.065},{"seconds":3145,"wpa":-0.105},{"seconds":3155,"wpa":-0.045},{"seconds":3165,"wpa":-0.08},{"seconds":3175,"wpa":-0.06},{"seconds":3185,"wpa":-0.095},{"seconds":3195,"wpa":-0.07},
      {"seconds":3110,"wpa":-0.095},{"seconds":3120,"wpa":-0.04},{"seconds":3140,"wpa":-0.08},{"seconds":3160,"wpa":-0.1},{"seconds":3170,"wpa":-0.05},{"seconds":3190,"wpa":-0.085},
      {"seconds":3211,"wpa":-0.012},{"seconds":3220,"wpa":-0.05},{"seconds":3230,"wpa":-0.085},{"seconds":3240,"wpa":-0.065},{"seconds":3250,"wpa":-0.1},{"seconds":3260,"wpa":-0.075},{"seconds":3271,"wpa":-0.222},{"seconds":3280,"wpa":-0.055},{"seconds":3290,"wpa":-0.09},{"seconds":3298,"wpa":-0.07},
      {"seconds":3205,"wpa":-0.06},{"seconds":3215,"wpa":-0.09},{"seconds":3235,"wpa":-0.045},{"seconds":3255,"wpa":-0.08},{"seconds":3265,"wpa":-0.06},{"seconds":3285,"wpa":-0.105},
      {"seconds":3305,"wpa":-0.08},{"seconds":3315,"wpa":-0.06},{"seconds":3325,"wpa":-0.095},{"seconds":3335,"wpa":-0.05},{"seconds":3345,"wpa":-0.075},{"seconds":3355,"wpa":-0.1},{"seconds":3365,"wpa":-0.065},{"seconds":3375,"wpa":-0.085},{"seconds":3385,"wpa":-0.045},{"seconds":3395,"wpa":-0.07},
      {"seconds":3310,"wpa":-0.1},{"seconds":3320,"wpa":-0.045},{"seconds":3340,"wpa":-0.09},{"seconds":3350,"wpa":-0.06},{"seconds":3370,"wpa":-0.1},{"seconds":3390,"wpa":-0.08},
      {"seconds":3405,"wpa":-0.09},{"seconds":3415,"wpa":-0.06},{"seconds":3422,"wpa":-0.026},{"seconds":3430,"wpa":-0.08},{"seconds":3440,"wpa":-0.095},{"seconds":3450,"wpa":-0.065},{"seconds":3460,"wpa":-0.085},{"seconds":3467,"wpa":-0.256},{"seconds":3475,"wpa":-0.09},{"seconds":3485,"wpa":-0.1},{"seconds":3495,"wpa":-0.095},{"seconds":3505,"wpa":-0.098},{"seconds":3511,"wpa":-0.1},{"seconds":3445,"wpa":-0.04},
      {"seconds":3410,"wpa":-0.075},{"seconds":3420,"wpa":-0.1},{"seconds":3435,"wpa":-0.055},{"seconds":3455,"wpa":-0.1},{"seconds":3465,"wpa":-0.075},{"seconds":3480,"wpa":-0.08},{"seconds":3490,"wpa":-0.085},{"seconds":3500,"wpa":-0.092}
    ],
    "fit_seconds": [{"seconds":-144,"wpa":-0.0777},{"seconds":3744,"wpa":-0.0765}],
    "yard_line": [
      {"yard_line":4,"wpa":-0.056},{"yard_line":4,"wpa":-0.066},
      {"yard_line":5,"wpa":-0.027},
      {"yard_line":6,"wpa":-0.078},{"yard_line":6,"wpa":-0.15},
      {"yard_line":7,"wpa":-0.096},{"yard_line":7,"wpa":-0.173},
      {"yard_line":8,"wpa":-0.167},{"yard_line":8,"wpa":-0.229},
      {"yard_line":9,"wpa":-0.015},{"yard_line":9,"wpa":-0.05},{"yard_line":9,"wpa":-0.085},{"yard_line":9,"wpa":-0.1},{"yard_line":9,"wpa":-0.186},
      {"yard_line":10,"wpa":-0.026},{"yard_line":10,"wpa":-0.045},{"yard_line":10,"wpa":-0.06},{"yard_line":10,"wpa":-0.075},{"yard_line":10,"wpa":-0.1},{"yard_line":10,"wpa":-0.222},
      {"yard_line":11,"wpa":-0.043},{"yard_line":11,"wpa":-0.053},{"yard_line":11,"wpa":-0.06},{"yard_line":11,"wpa":-0.068},{"yard_line":11,"wpa":-0.141},
      {"yard_line":12,"wpa":-0.047},{"yard_line":12,"wpa":-0.058},{"yard_line":12,"wpa":-0.066},
      {"yard_line":13,"wpa":-0.061},{"yard_line":13,"wpa":-0.068},{"yard_line":13,"wpa":-0.075},{"yard_line":13,"wpa":-0.085},{"yard_line":13,"wpa":-0.096},{"yard_line":13,"wpa":-0.118},
      {"yard_line":14,"wpa":-0.036},{"yard_line":14,"wpa":-0.068},{"yard_line":14,"wpa":-0.159},
      {"yard_line":15,"wpa":-0.047},{"yard_line":15,"wpa":-0.058},{"yard_line":15,"wpa":-0.07},{"yard_line":15,"wpa":-0.082},{"yard_line":15,"wpa":-0.09},{"yard_line":15,"wpa":-0.098},{"yard_line":15,"wpa":-0.106},{"yard_line":15,"wpa":-0.115},{"yard_line":15,"wpa":-0.13},{"yard_line":15,"wpa":-0.14},{"yard_line":15,"wpa":-0.152},
      {"yard_line":15,"wpa":-0.064},{"yard_line":15,"wpa":-0.076},{"yard_line":15,"wpa":-0.086},{"yard_line":15,"wpa":-0.094},{"yard_line":15,"wpa":-0.102},{"yard_line":15,"wpa":-0.11},
      {"yard_line":16,"wpa":-0.026},{"yard_line":16,"wpa":-0.038},{"yard_line":16,"wpa":-0.05},{"yard_line":16,"wpa":-0.062},{"yard_line":16,"wpa":-0.075},{"yard_line":16,"wpa":-0.085},{"yard_line":16,"wpa":-0.095},{"yard_line":16,"wpa":-0.105},{"yard_line":16,"wpa":-0.115},{"yard_line":16,"wpa":-0.14},{"yard_line":16,"wpa":-0.163},
      {"yard_line":16,"wpa":-0.044},{"yard_line":16,"wpa":-0.056},{"yard_line":16,"wpa":-0.068},{"yard_line":16,"wpa":-0.08},{"yard_line":16,"wpa":-0.09},{"yard_line":16,"wpa":-0.1},{"yard_line":16,"wpa":-0.11},
      {"yard_line":17,"wpa":-0.002},{"yard_line":17,"wpa":-0.026},{"yard_line":17,"wpa":-0.06},{"yard_line":17,"wpa":-0.07},{"yard_line":17,"wpa":-0.08},{"yard_line":17,"wpa":-0.09},{"yard_line":17,"wpa":-0.1},{"yard_line":17,"wpa":-0.19},
      {"yard_line":18,"wpa":-0.036},{"yard_line":18,"wpa":-0.045},{"yard_line":18,"wpa":-0.055},{"yard_line":18,"wpa":-0.065},{"yard_line":18,"wpa":-0.075},{"yard_line":18,"wpa":-0.085},{"yard_line":18,"wpa":-0.095},{"yard_line":18,"wpa":-0.105},{"yard_line":18,"wpa":-0.116},
      {"yard_line":19,"wpa":0.016},{"yard_line":19,"wpa":-0.015},{"yard_line":19,"wpa":-0.025},{"yard_line":19,"wpa":-0.035},{"yard_line":19,"wpa":-0.045},{"yard_line":19,"wpa":-0.055},{"yard_line":19,"wpa":-0.065},{"yard_line":19,"wpa":-0.075},{"yard_line":19,"wpa":-0.085},{"yard_line":19,"wpa":-0.095},{"yard_line":19,"wpa":-0.105},
      {"yard_line":19,"wpa":-0.02},{"yard_line":19,"wpa":-0.03},{"yard_line":19,"wpa":-0.04},{"yard_line":19,"wpa":-0.05},{"yard_line":19,"wpa":-0.06},{"yard_line":19,"wpa":-0.07},{"yard_line":19,"wpa":-0.08},{"yard_line":19,"wpa":-0.09},
      {"yard_line":20,"wpa":-0.015},{"yard_line":20,"wpa":-0.025},{"yard_line":20,"wpa":-0.035},{"yard_line":20,"wpa":-0.045},{"yard_line":20,"wpa":-0.055},{"yard_line":20,"wpa":-0.065},{"yard_line":20,"wpa":-0.075},{"yard_line":20,"wpa":-0.085},{"yard_line":20,"wpa":-0.095},{"yard_line":20,"wpa":-0.105},{"yard_line":20,"wpa":-0.12},{"yard_line":20,"wpa":-0.164},{"yard_line":20,"wpa":-0.201},{"yard_line":20,"wpa":-0.259},
      {"yard_line":20,"wpa":-0.02},{"yard_line":20,"wpa":-0.03},{"yard_line":20,"wpa":-0.04},{"yard_line":20,"wpa":-0.05},{"yard_line":20,"wpa":-0.06},{"yard_line":20,"wpa":-0.07},{"yard_line":20,"wpa":-0.08},{"yard_line":20,"wpa":-0.09},{"yard_line":20,"wpa":-0.1},
      {"yard_line":21,"wpa":-0.02},{"yard_line":21,"wpa":-0.03},{"yard_line":21,"wpa":-0.04},{"yard_line":21,"wpa":-0.05},{"yard_line":21,"wpa":-0.06},{"yard_line":21,"wpa":-0.07},{"yard_line":21,"wpa":-0.08},{"yard_line":21,"wpa":-0.09},{"yard_line":21,"wpa":-0.1},{"yard_line":21,"wpa":-0.11},{"yard_line":21,"wpa":-0.125},
      {"yard_line":21,"wpa":-0.025},{"yard_line":21,"wpa":-0.035},{"yard_line":21,"wpa":-0.045},{"yard_line":21,"wpa":-0.055},{"yard_line":21,"wpa":-0.065},{"yard_line":21,"wpa":-0.075},{"yard_line":21,"wpa":-0.085},{"yard_line":21,"wpa":-0.095},
      {"yard_line":22,"wpa":-0.025},{"yard_line":22,"wpa":-0.035},{"yard_line":22,"wpa":-0.045},{"yard_line":22,"wpa":-0.055},{"yard_line":22,"wpa":-0.065},{"yard_line":22,"wpa":-0.075},{"yard_line":22,"wpa":-0.085},{"yard_line":22,"wpa":-0.095},{"yard_line":22,"wpa":-0.105},{"yard_line":22,"wpa":-0.115},{"yard_line":22,"wpa":-0.13},{"yard_line":22,"wpa":-0.14},
      {"yard_line":22,"wpa":-0.03},{"yard_line":22,"wpa":-0.04},{"yard_line":22,"wpa":-0.05},{"yard_line":22,"wpa":-0.06},{"yard_line":22,"wpa":-0.07},{"yard_line":22,"wpa":-0.08},{"yard_line":22,"wpa":-0.09},{"yard_line":22,"wpa":-0.1},
      {"yard_line":23,"wpa":-0.008},{"yard_line":23,"wpa":-0.02},{"yard_line":23,"wpa":-0.03},{"yard_line":23,"wpa":-0.04},{"yard_line":23,"wpa":-0.05},{"yard_line":23,"wpa":-0.06},{"yard_line":23,"wpa":-0.07},{"yard_line":23,"wpa":-0.08},{"yard_line":23,"wpa":-0.09},{"yard_line":23,"wpa":-0.1},{"yard_line":23,"wpa":-0.11},{"yard_line":23,"wpa":-0.12},{"yard_line":23,"wpa":-0.135},{"yard_line":23,"wpa":-0.155},{"yard_line":23,"wpa":-0.255},
      {"yard_line":23,"wpa":-0.015},{"yard_line":23,"wpa":-0.025},{"yard_line":23,"wpa":-0.035},{"yard_line":23,"wpa":-0.045},{"yard_line":23,"wpa":-0.055},{"yard_line":23,"wpa":-0.065},{"yard_line":23,"wpa":-0.075},{"yard_line":23,"wpa":-0.085},{"yard_line":23,"wpa":-0.095},
      {"yard_line":24,"wpa":-0.008},{"yard_line":24,"wpa":-0.02},{"yard_line":24,"wpa":-0.03},{"yard_line":24,"wpa":-0.04},{"yard_line":24,"wpa":-0.05},{"yard_line":24,"wpa":-0.06},{"yard_line":24,"wpa":-0.07},{"yard_line":24,"wpa":-0.08},{"yard_line":24,"wpa":-0.09},{"yard_line":24,"wpa":-0.1},{"yard_line":24,"wpa":-0.11},{"yard_line":24,"wpa":-0.12},{"yard_line":24,"wpa":-0.294},
      {"yard_line":24,"wpa":-0.015},{"yard_line":24,"wpa":-0.025},{"yard_line":24,"wpa":-0.035},{"yard_line":24,"wpa":-0.045},{"yard_line":24,"wpa":-0.055},{"yard_line":24,"wpa":-0.065},{"yard_line":24,"wpa":-0.075},{"yard_line":24,"wpa":-0.085},{"yard_line":24,"wpa":-0.095},{"yard_line":24,"wpa":-0.105},
      {"yard_line":25,"wpa":-0.012},{"yard_line":25,"wpa":-0.025},{"yard_line":25,"wpa":-0.035},{"yard_line":25,"wpa":-0.045},{"yard_line":25,"wpa":-0.055},{"yard_line":25,"wpa":-0.065},{"yard_line":25,"wpa":-0.075},{"yard_line":25,"wpa":-0.085},{"yard_line":25,"wpa":-0.095},{"yard_line":25,"wpa":-0.105},{"yard_line":25,"wpa":-0.115},{"yard_line":25,"wpa":-0.125},{"yard_line":25,"wpa":-0.16},{"yard_line":25,"wpa":-0.17},{"yard_line":25,"wpa":-0.18},{"yard_line":25,"wpa":-0.19},{"yard_line":25,"wpa":-0.198},
      {"yard_line":25,"wpa":-0.02},{"yard_line":25,"wpa":-0.03},{"yard_line":25,"wpa":-0.04},{"yard_line":25,"wpa":-0.05},{"yard_line":25,"wpa":-0.06},{"yard_line":25,"wpa":-0.07},{"yard_line":25,"wpa":-0.08},{"yard_line":25,"wpa":-0.09},{"yard_line":25,"wpa":-0.1},
      {"yard_line":26,"wpa":-0.03},{"yard_line":26,"wpa":-0.04},{"yard_line":26,"wpa":-0.05},{"yard_line":26,"wpa":-0.06},{"yard_line":26,"wpa":-0.07},{"yard_line":26,"wpa":-0.08},{"yard_line":26,"wpa":-0.09},{"yard_line":26,"wpa":-0.1},{"yard_line":26,"wpa":-0.116},
      {"yard_line":26,"wpa":-0.035},{"yard_line":26,"wpa":-0.045},{"yard_line":26,"wpa":-0.055},{"yard_line":26,"wpa":-0.065},{"yard_line":26,"wpa":-0.075},{"yard_line":26,"wpa":-0.085},{"yard_line":26,"wpa":-0.095},
      {"yard_line":27,"wpa":-0.012},{"yard_line":27,"wpa":-0.025},{"yard_line":27,"wpa":-0.035},{"yard_line":27,"wpa":-0.045},{"yard_line":27,"wpa":-0.055},{"yard_line":27,"wpa":-0.065},{"yard_line":27,"wpa":-0.075},{"yard_line":27,"wpa":-0.085},{"yard_line":27,"wpa":-0.095},{"yard_line":27,"wpa":-0.105},{"yard_line":27,"wpa":-0.12},{"yard_line":27,"wpa":-0.155},{"yard_line":27,"wpa":-0.169},{"yard_line":27,"wpa":-0.279},
      {"yard_line":27,"wpa":-0.02},{"yard_line":27,"wpa":-0.03},{"yard_line":27,"wpa":-0.04},{"yard_line":27,"wpa":-0.05},{"yard_line":27,"wpa":-0.06},{"yard_line":27,"wpa":-0.07},{"yard_line":27,"wpa":-0.08},{"yard_line":27,"wpa":-0.09},{"yard_line":27,"wpa":-0.1},
      {"yard_line":28,"wpa":-0.002},{"yard_line":28,"wpa":-0.015},{"yard_line":28,"wpa":-0.025},{"yard_line":28,"wpa":-0.035},{"yard_line":28,"wpa":-0.045},{"yard_line":28,"wpa":-0.055},{"yard_line":28,"wpa":-0.065},{"yard_line":28,"wpa":-0.075},{"yard_line":28,"wpa":-0.085},{"yard_line":28,"wpa":-0.095},{"yard_line":28,"wpa":-0.12},{"yard_line":28,"wpa":-0.18},{"yard_line":28,"wpa":-0.389},
      {"yard_line":28,"wpa":-0.01},{"yard_line":28,"wpa":-0.02},{"yard_line":28,"wpa":-0.03},{"yard_line":28,"wpa":-0.04},{"yard_line":28,"wpa":-0.05},{"yard_line":28,"wpa":-0.06},{"yard_line":28,"wpa":-0.07},{"yard_line":28,"wpa":-0.08},{"yard_line":28,"wpa":-0.09},
      {"yard_line":29,"wpa":-0.005},{"yard_line":29,"wpa":-0.015},{"yard_line":29,"wpa":-0.025},{"yard_line":29,"wpa":-0.035},{"yard_line":29,"wpa":-0.045},{"yard_line":29,"wpa":-0.055},{"yard_line":29,"wpa":-0.065},{"yard_line":29,"wpa":-0.075},{"yard_line":29,"wpa":-0.085},{"yard_line":29,"wpa":-0.095},{"yard_line":29,"wpa":-0.105},{"yard_line":29,"wpa":-0.12},{"yard_line":29,"wpa":-0.135},{"yard_line":29,"wpa":-0.145},{"yard_line":29,"wpa":-0.16},
      {"yard_line":29,"wpa":-0.01},{"yard_line":29,"wpa":-0.02},{"yard_line":29,"wpa":-0.03},{"yard_line":29,"wpa":-0.04},{"yard_line":29,"wpa":-0.05},{"yard_line":29,"wpa":-0.06},{"yard_line":29,"wpa":-0.07},{"yard_line":29,"wpa":-0.08},{"yard_line":29,"wpa":-0.09},{"yard_line":29,"wpa":-0.1},
      {"yard_line":30,"wpa":0},{"yard_line":30,"wpa":-0.01},{"yard_line":30,"wpa":-0.02},{"yard_line":30,"wpa":-0.03},{"yard_line":30,"wpa":-0.04},{"yard_line":30,"wpa":-0.05},{"yard_line":30,"wpa":-0.06},{"yard_line":30,"wpa":-0.07},{"yard_line":30,"wpa":-0.08},{"yard_line":30,"wpa":-0.09},{"yard_line":30,"wpa":-0.1},{"yard_line":30,"wpa":-0.11},{"yard_line":30,"wpa":-0.128},{"yard_line":30,"wpa":-0.15},
      {"yard_line":30,"wpa":-0.005},{"yard_line":30,"wpa":-0.015},{"yard_line":30,"wpa":-0.025},{"yard_line":30,"wpa":-0.035},{"yard_line":30,"wpa":-0.045},{"yard_line":30,"wpa":-0.055},{"yard_line":30,"wpa":-0.065},{"yard_line":30,"wpa":-0.075},{"yard_line":30,"wpa":-0.085},{"yard_line":30,"wpa":-0.095},
      {"yard_line":31,"wpa":-0.015},{"yard_line":31,"wpa":-0.025},{"yard_line":31,"wpa":-0.035},{"yard_line":31,"wpa":-0.045},{"yard_line":31,"wpa":-0.055},{"yard_line":31,"wpa":-0.065},{"yard_line":31,"wpa":-0.075},{"yard_line":31,"wpa":-0.085},{"yard_line":31,"wpa":-0.095},{"yard_line":31,"wpa":-0.105},{"yard_line":31,"wpa":-0.115},{"yard_line":31,"wpa":-0.145},
      {"yard_line":31,"wpa":-0.02},{"yard_line":31,"wpa":-0.03},{"yard_line":31,"wpa":-0.04},{"yard_line":31,"wpa":-0.05},{"yard_line":31,"wpa":-0.06},{"yard_line":31,"wpa":-0.07},{"yard_line":31,"wpa":-0.08},{"yard_line":31,"wpa":-0.09},{"yard_line":31,"wpa":-0.1},
      {"yard_line":32,"wpa":0.002},{"yard_line":32,"wpa":-0.01},{"yard_line":32,"wpa":-0.02},{"yard_line":32,"wpa":-0.03},{"yard_line":32,"wpa":-0.04},{"yard_line":32,"wpa":-0.05},{"yard_line":32,"wpa":-0.06},{"yard_line":32,"wpa":-0.07},{"yard_line":32,"wpa":-0.08},{"yard_line":32,"wpa":-0.09},{"yard_line":32,"wpa":-0.1},{"yard_line":32,"wpa":-0.115},{"yard_line":32,"wpa":-0.14},{"yard_line":32,"wpa":-0.15},
      {"yard_line":32,"wpa":-0.005},{"yard_line":32,"wpa":-0.015},{"yard_line":32,"wpa":-0.025},{"yard_line":32,"wpa":-0.035},{"yard_line":32,"wpa":-0.045},{"yard_line":32,"wpa":-0.055},{"yard_line":32,"wpa":-0.065},{"yard_line":32,"wpa":-0.075},{"yard_line":32,"wpa":-0.085},{"yard_line":32,"wpa":-0.095},
      {"yard_line":33,"wpa":-0.025},{"yard_line":33,"wpa":-0.035},{"yard_line":33,"wpa":-0.045},{"yard_line":33,"wpa":-0.055},{"yard_line":33,"wpa":-0.065},{"yard_line":33,"wpa":-0.075},{"yard_line":33,"wpa":-0.085},{"yard_line":33,"wpa":-0.1},
      {"yard_line":33,"wpa":-0.03},{"yard_line":33,"wpa":-0.04},{"yard_line":33,"wpa":-0.05},{"yard_line":33,"wpa":-0.06},{"yard_line":33,"wpa":-0.07},{"yard_line":33,"wpa":-0.08},
      {"yard_line":34,"wpa":-0.008},{"yard_line":34,"wpa":-0.02},{"yard_line":34,"wpa":-0.03},{"yard_line":34,"wpa":-0.04},{"yard_line":34,"wpa":-0.05},{"yard_line":34,"wpa":-0.06},{"yard_line":34,"wpa":-0.07},{"yard_line":34,"wpa":-0.08},{"yard_line":34,"wpa":-0.09},{"yard_line":34,"wpa":-0.105},{"yard_line":34,"wpa":-0.188},
      {"yard_line":34,"wpa":-0.015},{"yard_line":34,"wpa":-0.025},{"yard_line":34,"wpa":-0.035},{"yard_line":34,"wpa":-0.045},{"yard_line":34,"wpa":-0.055},{"yard_line":34,"wpa":-0.065},{"yard_line":34,"wpa":-0.075},{"yard_line":34,"wpa":-0.085},
      {"yard_line":35,"wpa":-0.015},{"yard_line":35,"wpa":-0.025},{"yard_line":35,"wpa":-0.035},{"yard_line":35,"wpa":-0.045},{"yard_line":35,"wpa":-0.055},{"yard_line":35,"wpa":-0.065},{"yard_line":35,"wpa":-0.075},{"yard_line":35,"wpa":-0.085},{"yard_line":35,"wpa":-0.095},{"yard_line":35,"wpa":-0.105},{"yard_line":35,"wpa":-0.115},{"yard_line":35,"wpa":-0.125},{"yard_line":35,"wpa":-0.17},{"yard_line":35,"wpa":-0.175},{"yard_line":35,"wpa":-0.18},
      {"yard_line":35,"wpa":-0.02},{"yard_line":35,"wpa":-0.03},{"yard_line":35,"wpa":-0.04},{"yard_line":35,"wpa":-0.05},{"yard_line":35,"wpa":-0.06},{"yard_line":35,"wpa":-0.07},{"yard_line":35,"wpa":-0.08},{"yard_line":35,"wpa":-0.09},{"yard_line":35,"wpa":-0.1},
      {"yard_line":36,"wpa":-0.008},{"yard_line":36,"wpa":-0.02},{"yard_line":36,"wpa":-0.03},{"yard_line":36,"wpa":-0.04},{"yard_line":36,"wpa":-0.05},{"yard_line":36,"wpa":-0.06},{"yard_line":36,"wpa":-0.07},{"yard_line":36,"wpa":-0.08},{"yard_line":36,"wpa":-0.09},{"yard_line":36,"wpa":-0.1},{"yard_line":36,"wpa":-0.11},{"yard_line":36,"wpa":-0.165},{"yard_line":36,"wpa":-0.203},
      {"yard_line":36,"wpa":-0.015},{"yard_line":36,"wpa":-0.025},{"yard_line":36,"wpa":-0.035},{"yard_line":36,"wpa":-0.045},{"yard_line":36,"wpa":-0.055},{"yard_line":36,"wpa":-0.065},{"yard_line":36,"wpa":-0.075},{"yard_line":36,"wpa":-0.085},{"yard_line":36,"wpa":-0.095},
      {"yard_line":37,"wpa":-0.025},{"yard_line":37,"wpa":-0.04},{"yard_line":37,"wpa":-0.05},{"yard_line":37,"wpa":-0.06},{"yard_line":37,"wpa":-0.07},{"yard_line":37,"wpa":-0.08},{"yard_line":37,"wpa":-0.09},{"yard_line":37,"wpa":-0.1},{"yard_line":37,"wpa":-0.11},{"yard_line":37,"wpa":-0.163},
      {"yard_line":37,"wpa":-0.045},{"yard_line":37,"wpa":-0.055},{"yard_line":37,"wpa":-0.065},{"yard_line":37,"wpa":-0.075},{"yard_line":37,"wpa":-0.085},{"yard_line":37,"wpa":-0.095},
      {"yard_line":38,"wpa":-0.02},{"yard_line":38,"wpa":-0.03},{"yard_line":38,"wpa":-0.04},{"yard_line":38,"wpa":-0.06},{"yard_line":38,"wpa":-0.08},{"yard_line":38,"wpa":-0.1},{"yard_line":38,"wpa":-0.141},
      {"yard_line":39,"wpa":-0.012},{"yard_line":39,"wpa":-0.022},{"yard_line":39,"wpa":-0.03},{"yard_line":39,"wpa":-0.04},{"yard_line":39,"wpa":-0.05},{"yard_line":39,"wpa":-0.06},{"yard_line":39,"wpa":-0.07},
      {"yard_line":40,"wpa":-0.01},{"yard_line":40,"wpa":-0.033},{"yard_line":40,"wpa":-0.084},{"yard_line":40,"wpa":-0.088}
    ],
    "fit_yard_line": [{"yard_line":-1.8,"wpa":-0.1},{"yard_line":46.8,"wpa":-0.061}]
  },
  "spacing": 99,
  "vconcat": [
    {
      "spacing": 54,
      "hconcat": [
        {
          "width": 582,
          "height": 257,
          "title": {"text": "WPA vs. Yards to Go"},
          "layer": [
            {
              "data": {"name": "yards_to_go"},
              "mark": {"type": "point"},
              "encoding": {
                "x": {"field": "yards", "type": "quantitative", "scale": {"domain": [-1.2, 31.2], "nice": false, "zero": false}, "axis": {"values": [0, 5, 10, 15, 20, 25, 30], "format": "d", "title": ["Yards to Go", "R = 0.20"]}},
                "y": {"field": "wpa", "type": "quantitative", "scale": {"domain": [-0.47, 0.07], "nice": false, "zero": false}, "axis": {"values": [-0.4, -0.3, -0.2, -0.1, 0], "labelExpr": "datum.value == 0 ? '0.0' : datum.value == -0.2 ? '-0.2' : datum.value == -0.4 ? '-0.4' : ''", "title": "WPA"}}
              }
            },
            {
              "data": {"name": "fit_yards"},
              "mark": {"type": "line"},
              "encoding": {
                "x": {"field": "yards", "type": "quantitative"},
                "y": {"field": "wpa", "type": "quantitative"}
              }
            }
          ]
        },
        {
          "width": 582,
          "height": 257,
          "title": {"text": "WPA vs. Score Differential"},
          "layer": [
            {
              "data": {"name": "score_differential"},
              "mark": {"type": "point"},
              "encoding": {
                "x": {"field": "score_diff", "type": "quantitative", "scale": {"domain": [-1.2, 31.2], "nice": false, "zero": false}, "axis": {"values": [0, 5, 10, 15, 20, 25, 30], "format": "d", "title": ["Score Differential", "R = 0.60"]}},
                "y": {"field": "wpa", "type": "quantitative", "scale": {"domain": [-0.47, 0.07], "nice": false, "zero": false}, "axis": {"values": [-0.4, -0.3, -0.2, -0.1, 0], "labelExpr": "datum.value == 0 ? '0.0' : datum.value == -0.2 ? '-0.2' : datum.value == -0.4 ? '-0.4' : ''", "title": "WPA"}}
              }
            },
            {
              "data": {"name": "fit_score"},
              "mark": {"type": "line"},
              "encoding": {
                "x": {"field": "score_diff", "type": "quantitative"},
                "y": {"field": "wpa", "type": "quantitative"}
              }
            }
          ]
        }
      ]
    },
    {
      "spacing": 54,
      "hconcat": [
        {
          "width": 582,
          "height": 257,
          "title": {"text": "WPA vs. Seconds Remaining"},
          "layer": [
            {
              "data": {"name": "seconds_remaining"},
              "mark": {"type": "point"},
              "encoding": {
                "x": {"field": "seconds", "type": "quantitative", "scale": {"domain": [-144, 3744], "nice": false, "zero": false}, "axis": {"values": [0, 500, 1000, 1500, 2000, 2500, 3000, 3500], "format": "d", "title": ["Seconds Remaining", "R = -0.02"]}},
                "y": {"field": "wpa", "type": "quantitative", "scale": {"domain": [-0.47, 0.07], "nice": false, "zero": false}, "axis": {"values": [-0.4, -0.3, -0.2, -0.1, 0], "labelExpr": "datum.value == 0 ? '0.0' : datum.value == -0.2 ? '-0.2' : datum.value == -0.4 ? '-0.4' : ''", "title": "WPA"}}
              }
            },
            {
              "data": {"name": "fit_seconds"},
              "mark": {"type": "line"},
              "encoding": {
                "x": {"field": "seconds", "type": "quantitative"},
                "y": {"field": "wpa", "type": "quantitative"}
              }
            }
          ]
        },
        {
          "width": 582,
          "height": 257,
          "title": {"text": "WPA vs. Yard Line"},
          "layer": [
            {
              "data": {"name": "yard_line"},
              "mark": {"type": "point"},
              "encoding": {
                "x": {"field": "yard_line", "type": "quantitative", "scale": {"domain": [-1.8, 46.8], "nice": false, "zero": false}, "axis": {"values": [0, 10, 20, 30, 40], "format": "d", "title": ["Yard Line", "R = 0.15"]}},
                "y": {"field": "wpa", "type": "quantitative", "scale": {"domain": [-0.47, 0.07], "nice": false, "zero": false}, "axis": {"values": [-0.4, -0.3, -0.2, -0.1, 0], "labelExpr": "datum.value == 0 ? '0.0' : datum.value == -0.2 ? '-0.2' : datum.value == -0.4 ? '-0.4' : ''", "title": "WPA"}}
              }
            },
            {
              "data": {"name": "fit_yard_line"},
              "mark": {"type": "line"},
              "encoding": {
                "x": {"field": "yard_line", "type": "quantitative"},
                "y": {"field": "wpa", "type": "quantitative"}
              }
            }
          ]
        }
      ]
    }
  ]
}
